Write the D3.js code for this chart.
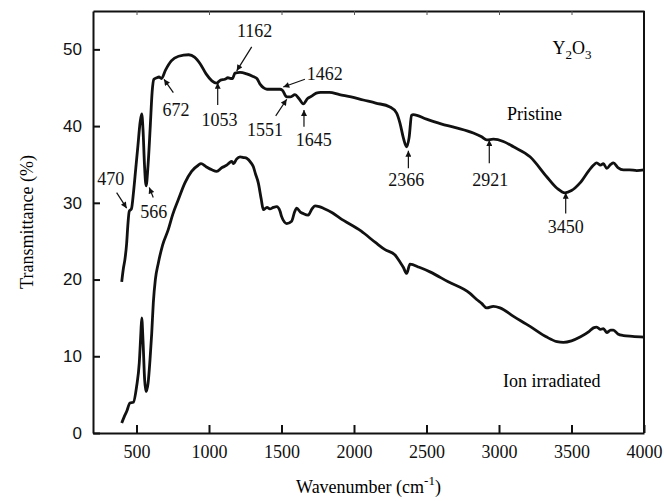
<!DOCTYPE html>
<html lang="en">
<head>
    <meta charset="UTF-8">
    <title>Y2O3 FTIR spectra</title>
    <script src="https://d3js.org/d3.v7.min.js"></script>
    <style>
        body {
            margin: 0;
            background-color: #ffffff;
        }
        svg {
            display: block;
        }
        .serif {
            font-family: "Liberation Serif", "Times New Roman", serif;
        }
        .ytick text {
            font-family: "Liberation Sans", Arial, sans-serif;
        }
    </style>
</head>
<body>
    <svg></svg>

    <script>
        // tick labels
        const xTicks = [500, 1000, 1500, 2000, 2500, 3000, 3500, 4000];
        const yTicks = [0, 10, 20, 30, 40, 50];

        // spectrum of the pristine film: [wavenumber, transmittance]
        const pristine = [
            [398, 19.7], [410, 21.5], [420, 22.6], [432, 24.7], [440, 27.0], [450, 28.9],
            [465, 29.2], [480, 31.5], [495, 34.5], [510, 37.5], [525, 40.5], [536, 41.6],
            [545, 39.5], [555, 35.0], [566, 32.2], [580, 35.0], [595, 40.0], [608, 44.5],
            [620, 46.1], [640, 46.3], [655, 46.4], [672, 46.2], [700, 47.3], [740, 48.5],
            [790, 49.1], [860, 49.3], [900, 49.0], [940, 48.1], [980, 46.8], [1020, 45.9],
            [1053, 45.6], [1080, 46.0], [1110, 46.1], [1130, 46.3], [1150, 46.2], [1162, 46.2],
            [1179, 46.9], [1214, 47.0], [1260, 46.8], [1300, 46.5], [1330, 46.2], [1355, 45.4],
            [1375, 45.0], [1400, 44.8], [1430, 44.8], [1460, 44.8], [1490, 44.8], [1505, 44.7],
            [1536, 43.8], [1560, 43.8], [1593, 44.1], [1620, 43.6], [1650, 42.9], [1680, 43.6],
            [1708, 43.9], [1740, 44.3], [1770, 44.4], [1830, 44.4], [1900, 44.1], [1980, 43.8],
            [2064, 43.4], [2150, 43.0], [2248, 42.5], [2294, 41.7], [2317, 40.4], [2340, 38.5],
            [2363, 37.3], [2380, 38.5], [2397, 41.4], [2409, 41.5], [2500, 40.9], [2600, 40.3],
            [2700, 39.8], [2823, 39.1], [2880, 38.6], [2915, 38.2], [2961, 38.3], [3030, 38.0],
            [3100, 37.3], [3214, 36.0], [3329, 33.4], [3400, 31.9], [3455, 31.3], [3500, 31.6],
            [3559, 32.6], [3620, 34.2], [3651, 34.9], [3674, 35.2], [3700, 34.9], [3720, 35.1],
            [3743, 34.5], [3770, 35.0], [3789, 35.2], [3820, 34.6], [3858, 34.3], [3900, 34.3],
            [3950, 34.2], [4000, 34.3]
        ];

        // spectrum after ion irradiation
        const irradiated = [
            [398, 1.3], [415, 2.1], [432, 2.8], [455, 3.9], [478, 4.0], [501, 6.1],
            [519, 9.1], [530, 13.0], [536, 15.0], [545, 12.0], [556, 7.0], [566, 5.4],
            [580, 6.5], [593, 9.5], [605, 13.0], [616, 17.0], [630, 20.0], [650, 22.1],
            [680, 24.5], [719, 26.5], [750, 28.5], [788, 30.4], [834, 32.6], [880, 34.1],
            [926, 34.9], [945, 35.1], [980, 34.7], [1020, 34.3], [1053, 34.1], [1090, 34.6],
            [1122, 34.9], [1140, 35.2], [1157, 35.4], [1170, 35.1], [1190, 35.7], [1214, 36.0],
            [1240, 35.9], [1260, 35.8], [1290, 35.2], [1306, 34.7], [1320, 33.8], [1340, 32.6],
            [1360, 30.5], [1375, 29.1], [1400, 29.4], [1420, 29.2], [1444, 29.4], [1467, 29.5],
            [1490, 28.9], [1501, 28.2], [1520, 27.5], [1536, 27.3], [1570, 27.6], [1590, 28.8],
            [1605, 29.3], [1630, 28.8], [1650, 28.6], [1684, 28.4], [1710, 29.2], [1731, 29.6],
            [1760, 29.5], [1788, 29.3], [1850, 28.7], [1903, 28.0], [2050, 26.3], [2150, 24.8],
            [2214, 23.9], [2283, 23.2], [2317, 22.3], [2340, 21.6], [2363, 20.8], [2386, 22.0],
            [2450, 21.6], [2524, 21.0], [2650, 19.7], [2800, 18.2], [2846, 17.4], [2880, 16.9],
            [2915, 16.3], [2961, 16.5], [3007, 16.3], [3100, 15.2], [3214, 13.9], [3329, 12.5],
            [3400, 11.9], [3444, 11.8], [3500, 12.0], [3559, 12.5], [3620, 13.2], [3651, 13.7],
            [3674, 13.8], [3700, 13.5], [3720, 13.6], [3743, 13.1], [3770, 13.4], [3789, 13.4],
            [3820, 12.9], [3858, 12.7], [3920, 12.6], [4000, 12.5]
        ];

        // marked bands: label and where the arrow touches the curve
        const bandLabels = ["470", "566", "672", "1053", "1162", "1462", "1551", "1645", "2366", "2921", "3450"];
        const bandTips = [
            [432, 29.3], [588, 32.0], [690, 46.1], [1060, 45.65], [1191, 47.2], [1512, 45.1],
            [1536, 43.5], [1655, 42.1], [2375, 36.8], [2933, 38.2], [3460, 31.3]
        ];

        // pixel offsets from the tip: arrow tail and label position
        const bandLayout = [
            { tail: [-10, -15.6], text: [-16, -23.3] },
            { tail: [4, 10], text: [4.5, 30.3] },
            { tail: [9.3, 13.4], text: [12, 36.7] },
            { tail: [0, 22.3], text: [1.8, 43.3] },
            { tail: [15, -24], text: [18, -33.7] },
            { tail: [21.7, -7.7], text: [41.4, -6.7] },
            { tail: [-11, 16.7], text: [-21.7, 36.7] },
            { tail: [0, 16.7], text: [9.8, 36] },
            { tail: [0, 17.6], text: [-2.1, 35.3] },
            { tail: [0, 23.3], text: [1, 46] },
            { tail: [0, 20.6], text: [0, 40.3] }
        ];

        const W = 664, H = 501;
        const margin = { top: 11, right: 20, bottom: 68, left: 93 };
        const width = W - margin.left - margin.right;
        const height = H - margin.top - margin.bottom;

        const root = d3.select("svg")
            .attr("width", W)
            .attr("height", H);

        const svg = root.append("g")
            .attr("transform", "translate(" + margin.left + "," + margin.top + ")");

        const x = d3.scaleLinear().domain([200, 4000]).range([0, width]);
        const y = d3.scaleLinear().domain([0, 55]).range([height, 0]);

        // arrow head
        root.append("defs").append("marker")
            .attr("id", "head")
            .attr("viewBox", "0 0 10 10")
            .attr("refX", 10)
            .attr("refY", 5)
            .attr("markerWidth", 7)
            .attr("markerHeight", 6)
            .attr("markerUnits", "userSpaceOnUse")
            .attr("orient", "auto")
            .append("path")
            .attr("d", "M0,0 L10,5 L0,10 Z")
            .attr("fill", "#111");

        // axes with ticks pointing inward
        const xAxis = svg.append("g")
            .attr("class", "serif")
            .attr("transform", "translate(0," + height + ")")
            .call(d3.axisBottom(x).tickValues(xTicks).tickFormat(d3.format("d"))
                .tickSizeInner(-8).tickSizeOuter(0).tickPadding(12));

        const yAxis = svg.append("g")
            .attr("class", "ytick")
            .call(d3.axisLeft(y).tickValues(yTicks).tickSizeInner(-7).tickSizeOuter(0).tickPadding(11));

        const topAxis = svg.append("g")
            .call(d3.axisTop(x).tickValues(xTicks).tickSizeInner(-4).tickSizeOuter(0).tickFormat(""));

        xAxis.selectAll("text").attr("font-size", "18px").attr("fill", "#111");
        yAxis.selectAll("text").attr("font-size", "17px").attr("fill", "#111");
        [xAxis, yAxis].forEach(a => {
            a.selectAll("line").attr("stroke", "#111").attr("stroke-width", 2);
            a.select(".domain").attr("stroke", "#111").attr("stroke-width", 2);
        });
        topAxis.selectAll("line").attr("stroke", "#555").attr("stroke-width", 1);
        topAxis.select(".domain").attr("stroke", "#111").attr("stroke-width", 2);

        // right border
        svg.append("line")
            .attr("x1", width).attr("x2", width)
            .attr("y1", 0).attr("y2", height)
            .attr("stroke", "#111")
            .attr("stroke-width", 2);

        // spectra
        const line = d3.line()
            .x(d => x(d[0]))
            .y(d => y(d[1]))
            .curve(d3.curveMonotoneX);

        [pristine, irradiated].forEach(series => {
            svg.append("path")
                .datum(series)
                .attr("fill", "none")
                .attr("stroke", "#111")
                .attr("stroke-width", 2.8)
                .attr("stroke-linejoin", "round")
                .attr("d", line);
        });

        // band arrows and labels
        const bands = svg.append("g").attr("class", "serif");
        bandLabels.forEach((label, i) => {
            const tx = x(bandTips[i][0]);
            const ty = y(bandTips[i][1]);
            const lay = bandLayout[i];
            bands.append("line")
                .attr("x1", tx + lay.tail[0])
                .attr("y1", ty + lay.tail[1])
                .attr("x2", tx)
                .attr("y2", ty)
                .attr("stroke", "#111")
                .attr("stroke-width", 1.2)
                .attr("marker-end", "url(#head)");
            bands.append("text")
                .attr("x", tx + lay.text[0])
                .attr("y", ty + lay.text[1])
                .attr("text-anchor", "middle")
                .attr("font-size", "18px")
                .attr("fill", "#111")
                .text(label);
        });

        // series names and compound
        svg.append("text")
            .attr("class", "serif")
            .attr("x", x(3245))
            .attr("y", y(40.8))
            .attr("text-anchor", "middle")
            .attr("font-size", "18px")
            .text("Pristine");

        svg.append("text")
            .attr("class", "serif")
            .attr("x", x(3364))
            .attr("y", y(6.0))
            .attr("text-anchor", "middle")
            .attr("font-size", "18px")
            .text("Ion irradiated");

        const comp = svg.append("text")
            .attr("class", "serif")
            .attr("x", x(3504))
            .attr("y", y(49.4))
            .attr("text-anchor", "middle")
            .attr("font-size", "18px");
        comp.append("tspan").text("Y");
        comp.append("tspan").attr("font-size", "13px").attr("dy", 5).text("2");
        comp.append("tspan").attr("dy", -5).text("O");
        comp.append("tspan").attr("font-size", "13px").attr("dy", 5).text("3");

        // axis titles
        svg.append("text")
            .attr("class", "serif")
            .attr("transform", "rotate(-90)")
            .attr("x", -height / 2)
            .attr("y", -60)
            .attr("text-anchor", "middle")
            .attr("font-size", "18px")
            .text("Transmittance (%)");

        const xt = svg.append("text")
            .attr("class", "serif")
            .attr("x", width / 2)
            .attr("y", height + 60)
            .attr("text-anchor", "middle")
            .attr("font-size", "18px");
        xt.append("tspan").text("Wavenumber (cm");
        xt.append("tspan").attr("font-size", "13px").attr("dy", -8).text("-1");
        xt.append("tspan").attr("dy", 8).text(")");
    </script>
</body>
</html>
